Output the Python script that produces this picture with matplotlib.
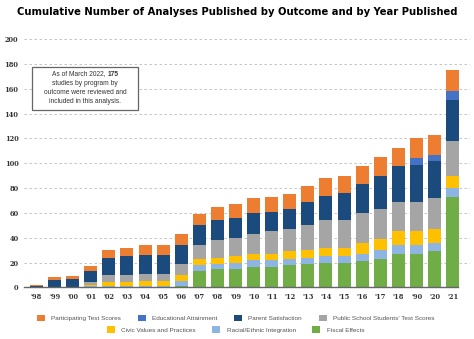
# Cumulative number of analyses published by outcome and by year published
# stacked bar chart

import numpy as np
import matplotlib.pyplot as plt
from matplotlib.patches import Patch, Rectangle

# year labels (the '90 is how the original labels 2019)
years = ["'98", "'99", "'00", "'01", "'02", "'03", "'04", "'05", "'06", "'07", "'08", "'09",
         "'10", "'11", "'12", "'13", "'14", "'15", "'16", "'17", "'18", "'90", "'20", "'21"]

# cumulative counts per outcome, bottom to top of the stack
fiscal    = [0, 0, 0, 0, 0, 0, 0, 0, 1, 13, 15, 15, 16, 16, 18, 19, 20, 20, 21, 23, 27, 27, 29, 73]
racial    = [0, 0, 0, 1, 1, 1, 1, 1, 4, 5, 4, 5, 6, 6, 5, 5, 5, 5, 6, 7, 7, 7, 7, 7]
civic     = [0, 0, 0, 1, 3, 3, 4, 4, 5, 5, 5, 5, 5, 5, 6, 6, 7, 7, 9, 9, 11, 11, 11, 10]
public    = [0, 0, 0, 2, 6, 6, 6, 6, 9, 11, 14, 15, 16, 18, 18, 20, 22, 22, 24, 24, 24, 24, 25, 28]
parent    = [1, 6, 7, 9, 14, 15, 15, 15, 15, 16, 16, 16, 17, 16, 16, 19, 20, 22, 23, 27, 29, 30, 30, 33]
educ      = [0, 0, 0, 0, 0, 0, 0, 0, 0, 0, 0, 0, 0, 0, 0, 0, 0, 0, 0, 0, 0, 5, 5, 7]
particip  = [1, 2, 2, 4, 6, 7, 8, 8, 9, 9, 11, 11, 12, 12, 12, 13, 14, 14, 15, 15, 14, 16, 16, 17]

# (label, values, colour) in stacking order
stack = [
    ("Fiscal Effects", fiscal, '#70AD47'),
    ("Racial/Ethnic Integration", racial, '#8DB4E2'),
    ("Civic Values and Practices", civic, '#FFC000'),
    ("Public School Students' Test Scores", public, '#A5A5A5'),
    ("Parent Satisfaction", parent, '#1B4A7C'),
    ("Educational Attainment", educ, '#4472C4'),
    ("Participating Test Scores", particip, '#ED7D31'),
]
colors = {lab: c for lab, _, c in stack}

fig = plt.figure(figsize=(4.74, 3.39), dpi=100)
ax = fig.add_axes([0.0506, 0.1525, 0.941, 0.7316])

x = np.arange(len(years))
bottom = np.zeros(len(years))
for lab, vals, col in stack:
    ax.bar(x, vals, bottom=bottom, width=0.72, color=col, linewidth=0, zorder=3)
    bottom += np.array(vals)

ax.set_xlim(-0.69, 23.96)
ax.set_ylim(0, 200)
ax.set_yticks(range(0, 201, 20))
ax.set_xticks(x)
ax.set_xticklabels(years)
ax.tick_params(length=0, labelsize=4.8, labelcolor='#333333', pad=4)
for t in ax.get_xticklabels() + ax.get_yticklabels():
    t.set_family('DejaVu Serif')
    t.set_fontweight('bold')

ax.grid(axis='y', linestyle=(0, (3, 3)), color='#BBBBBB', linewidth=0.6, zorder=0)
for s in ['top', 'right', 'left']:
    ax.spines[s].set_visible(False)
ax.spines['bottom'].set_color('#666666')
ax.spines['bottom'].set_linewidth(1.0)
ax.spines['bottom'].set_bounds(-0.69, 23.3)
ax.spines['bottom'].set_zorder(4)

# note box
ax.add_patch(Rectangle((-0.25, 143), 5.85, 34.7, fill=True, facecolor='white',
                       edgecolor='#666666', linewidth=0.9, zorder=5))
box_font = dict(family='Liberation Sans', fontsize=4.8, color='#333333', zorder=6)
cx = 2.68
t1 = ax.text(cx, 172, "As of March 2022,", ha='left', va='center', **box_font)
t2 = ax.text(cx, 172, "175", ha='left', va='center', fontweight='bold', **box_font)
ax.text(cx, 164.6, "studies by program by", ha='center', va='center', **box_font)
ax.text(cx, 157.2, "outcome were reviewed and", ha='center', va='center', **box_font)
ax.text(cx, 149.8, "included in this analysis.", ha='center', va='center', **box_font)

title = fig.text(0.5, 0.964,
                 "Cumulative Number of Analyses Published by Outcome and by Year Published",
                 ha='center', va='center', fontsize=9.5, fontweight='bold',
                 family='DejaVu Sans', fontstretch='condensed')

# centre the mixed-weight first line, and fit the title to the chart width
fig.canvas.draw()
r = fig.canvas.get_renderer()
gap = 2.0
w1 = t1.get_window_extent(r).width
w2 = t2.get_window_extent(r).width
px = ax.transData.transform((cx, 172))
x0 = px[0] - (w1 + gap + w2) / 2
t1.set_x(ax.transData.inverted().transform((x0, px[1]))[0])
t2.set_x(ax.transData.inverted().transform((x0 + w1 + gap, px[1]))[0])
tw = title.get_window_extent(r).width
title.set_fontsize(9.5 * 440 / tw)

# legend, two rows each centred on its own
row1 = ["Participating Test Scores", "Educational Attainment", "Parent Satisfaction",
        "Public School Students' Test Scores"]
row2 = ["Civic Values and Practices", "Racial/Ethnic Integration", "Fiscal Effects"]
for row, yy in [(row1, 0.062), (row2, 0.027)]:
    handles = [Patch(facecolor=colors[l], edgecolor='none') for l in row]
    fig.legend(handles, row, ncol=len(row), bbox_to_anchor=(0.497, yy), loc='center',
               frameon=False, handlelength=1.25, handleheight=1.25, handletextpad=1.0,
               columnspacing=2.6, borderpad=0, labelcolor='#555555',
               prop={'family': 'Liberation Sans', 'size': 4.6})

fig.savefig('out.png', dpi=100)
